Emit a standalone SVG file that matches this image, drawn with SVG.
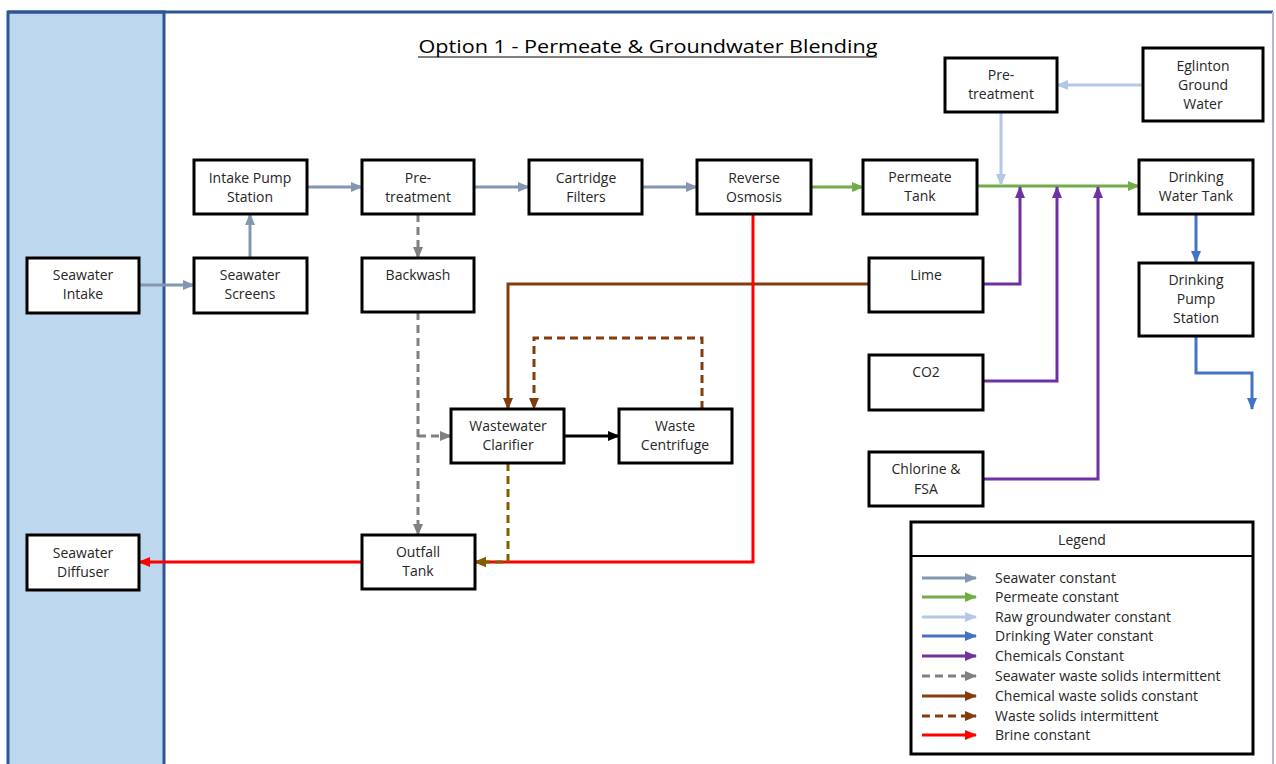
<svg xmlns="http://www.w3.org/2000/svg" width="1276" height="764" viewBox="0 0 1276 764">
<style>
.box{fill:#fff;stroke:#000;stroke-width:3}
.t{font-family:"Open Sans","Liberation Sans",sans-serif;font-size:14px;fill:#262626;text-anchor:middle}
.lt{font-family:"Open Sans","Liberation Sans",sans-serif;font-size:14px;fill:#262626}
.c{fill:none;stroke-width:3}
.sw{stroke:#8497B0}
.pm{stroke:#70AD47}
.gw{stroke:#B4C7E7}
.dw{stroke:#4472C4}
.ch{stroke:#7030A0}
.gd{stroke:#808080;stroke-dasharray:8 5}
.br{stroke:#843C0C}
.bd{stroke:#843C0C;stroke-dasharray:8 5}
.od{stroke:#7F6000;stroke-dasharray:8 5}
.rd{stroke:#FF0000}
.bk{stroke:#000}
</style>
<defs>
<marker id="aSw" markerUnits="userSpaceOnUse" markerWidth="12" markerHeight="10" refX="11" refY="5" orient="auto"><path d="M0,0 L12,5 L0,10 z" fill="#8497B0"/></marker>
<marker id="aPm" markerUnits="userSpaceOnUse" markerWidth="12" markerHeight="10" refX="11" refY="5" orient="auto"><path d="M0,0 L12,5 L0,10 z" fill="#70AD47"/></marker>
<marker id="aGw" markerUnits="userSpaceOnUse" markerWidth="12" markerHeight="10" refX="11" refY="5" orient="auto"><path d="M0,0 L12,5 L0,10 z" fill="#B4C7E7"/></marker>
<marker id="aDw" markerUnits="userSpaceOnUse" markerWidth="12" markerHeight="10" refX="11" refY="5" orient="auto"><path d="M0,0 L12,5 L0,10 z" fill="#4472C4"/></marker>
<marker id="aCh" markerUnits="userSpaceOnUse" markerWidth="12" markerHeight="10" refX="11" refY="5" orient="auto"><path d="M0,0 L12,5 L0,10 z" fill="#7030A0"/></marker>
<marker id="aGd" markerUnits="userSpaceOnUse" markerWidth="12" markerHeight="10" refX="11" refY="5" orient="auto"><path d="M0,0 L12,5 L0,10 z" fill="#808080"/></marker>
<marker id="aBr" markerUnits="userSpaceOnUse" markerWidth="12" markerHeight="10" refX="11" refY="5" orient="auto"><path d="M0,0 L12,5 L0,10 z" fill="#843C0C"/></marker>
<marker id="aOd" markerUnits="userSpaceOnUse" markerWidth="12" markerHeight="10" refX="11" refY="5" orient="auto"><path d="M0,0 L12,5 L0,10 z" fill="#7F6000"/></marker>
<marker id="aRd" markerUnits="userSpaceOnUse" markerWidth="12" markerHeight="10" refX="11" refY="5" orient="auto"><path d="M0,0 L12,5 L0,10 z" fill="#FF0000"/></marker>
<marker id="aBk" markerUnits="userSpaceOnUse" markerWidth="12" markerHeight="10" refX="11" refY="5" orient="auto"><path d="M0,0 L12,5 L0,10 z" fill="#000"/></marker>
</defs>
<rect width="1276" height="764" fill="#fff"/>
<g id="frame">
<rect x="8" y="12" width="156" height="760" fill="#BDD7EE" stroke="#2F5597" stroke-width="3"/>
<line x1="8" y1="12" x2="1273" y2="12" stroke="#2F5597" stroke-width="3"/>
<line x1="1273" y1="12" x2="1273" y2="764" stroke="#B8B8D8" stroke-width="2"/>
</g>
<g id="title">
<text x="648" y="53" font-family="'Open Sans','Liberation Sans',sans-serif" font-size="19" fill="#000" text-anchor="middle" textLength="459" lengthAdjust="spacingAndGlyphs">Option 1 - Permeate &amp; Groundwater Blending</text>
<line x1="418" y1="57" x2="877" y2="57" stroke="#000" stroke-width="1"/>
</g>
<g id="connectors">
<line class="c sw" x1="139" y1="285" x2="194" y2="285" marker-end="url(#aSw)"/>
<line class="c sw" x1="250" y1="258" x2="250" y2="214" marker-end="url(#aSw)"/>
<line class="c sw" x1="307" y1="187" x2="362" y2="187" marker-end="url(#aSw)"/>
<line class="c sw" x1="474" y1="187" x2="529" y2="187" marker-end="url(#aSw)"/>
<line class="c sw" x1="642" y1="187" x2="697" y2="187" marker-end="url(#aSw)"/>
<line class="c pm" x1="811" y1="187" x2="863" y2="187" marker-end="url(#aPm)"/>
<line class="c pm" x1="977" y1="186" x2="1139" y2="186" marker-end="url(#aPm)"/>
<line class="c gw" x1="1143" y1="85" x2="1057" y2="85" marker-end="url(#aGw)"/>
<line class="c gw" x1="1001" y1="112" x2="1001" y2="185" marker-end="url(#aGw)"/>
<path class="c ch" d="M983,284 H1020 V187" marker-end="url(#aCh)"/>
<path class="c ch" d="M983,381 H1057 V187" marker-end="url(#aCh)"/>
<path class="c ch" d="M983,479 H1098 V187" marker-end="url(#aCh)"/>
<line class="c dw" x1="1196" y1="214" x2="1196" y2="262" marker-end="url(#aDw)"/>
<path class="c dw" d="M1196,336 V373 H1252 V409" marker-end="url(#aDw)"/>
<line class="c gd" x1="418" y1="214" x2="418" y2="258" marker-end="url(#aGd)"/>
<line class="c gd" x1="418" y1="312" x2="418" y2="535" marker-end="url(#aGd)"/>
<line class="c gd" x1="418" y1="436" x2="451" y2="436" marker-end="url(#aGd)"/>
<path class="c br" d="M869,284 H508 V409" marker-end="url(#aBr)"/>
<path class="c bd" d="M702,409 V338 H534 V409" marker-end="url(#aBr)"/>
<line class="c bk" x1="564" y1="436" x2="619" y2="436" marker-end="url(#aBk)"/>
<path class="c rd" d="M753,214 V562 H475" marker-end="url(#aRd)"/>
<path class="c od" d="M508,463 V562 H475" marker-end="url(#aOd)"/>
<line class="c rd" x1="362" y1="562" x2="139" y2="562" marker-end="url(#aRd)"/>
</g>
<g id="n-seawater-intake"><rect class="box" x="27" y="258" width="112" height="55"/><text class="t" x="83" y="280">Seawater</text><text class="t" x="83" y="299">Intake</text></g>
<g id="n-seawater-screens"><rect class="box" x="194" y="258" width="113" height="55"/><text class="t" x="250" y="280">Seawater</text><text class="t" x="250" y="299">Screens</text></g>
<g id="n-intake-pump"><rect class="box" x="194" y="160" width="113" height="54"/><text class="t" x="250" y="183">Intake Pump</text><text class="t" x="250" y="202">Station</text></g>
<g id="n-pretreatment"><rect class="box" x="362" y="160" width="112" height="54"/><text class="t" x="418" y="183">Pre-</text><text class="t" x="418" y="202">treatment</text></g>
<g id="n-backwash"><rect class="box" x="362" y="258" width="112" height="54"/><text class="t" x="418" y="280">Backwash</text></g>
<g id="n-cartridge"><rect class="box" x="529" y="160" width="113" height="54"/><text class="t" x="586" y="183">Cartridge</text><text class="t" x="586" y="202">Filters</text></g>
<g id="n-ro"><rect class="box" x="697" y="160" width="114" height="54"/><text class="t" x="754" y="183">Reverse</text><text class="t" x="754" y="202">Osmosis</text></g>
<g id="n-permeate-tank"><rect class="box" x="863" y="160" width="114" height="54"/><text class="t" x="920" y="182">Permeate</text><text class="t" x="920" y="201">Tank</text></g>
<g id="n-gw-pretreatment"><rect class="box" x="945" y="58" width="112" height="54"/><text class="t" x="1001" y="80">Pre-</text><text class="t" x="1001" y="99">treatment</text></g>
<g id="n-eglinton"><rect class="box" x="1143" y="48" width="120" height="73"/><text class="t" x="1203" y="71">Eglinton</text><text class="t" x="1203" y="90">Ground</text><text class="t" x="1203" y="109">Water</text></g>
<g id="n-dw-tank"><rect class="box" x="1139" y="160" width="114" height="54"/><text class="t" x="1196" y="182">Drinking</text><text class="t" x="1196" y="201">Water Tank</text></g>
<g id="n-dw-pump"><rect class="box" x="1139" y="263" width="114" height="73"/><text class="t" x="1196" y="285">Drinking</text><text class="t" x="1196" y="304">Pump</text><text class="t" x="1196" y="323">Station</text></g>
<g id="n-lime"><rect class="box" x="869" y="258" width="114" height="54"/><text class="t" x="926" y="280">Lime</text></g>
<g id="n-co2"><rect class="box" x="869" y="355" width="114" height="55"/><text class="t" x="926" y="377">CO2</text></g>
<g id="n-chlorine"><rect class="box" x="869" y="452" width="114" height="54"/><text class="t" x="926" y="474">Chlorine &amp;</text><text class="t" x="926" y="494">FSA</text></g>
<g id="n-clarifier"><rect class="box" x="451" y="409" width="113" height="54"/><text class="t" x="508" y="431">Wastewater</text><text class="t" x="508" y="450">Clarifier</text></g>
<g id="n-centrifuge"><rect class="box" x="619" y="409" width="113" height="54"/><text class="t" x="675" y="431">Waste</text><text class="t" x="675" y="450">Centrifuge</text></g>
<g id="n-outfall"><rect class="box" x="362" y="535" width="113" height="54"/><text class="t" x="418" y="557">Outfall</text><text class="t" x="418" y="576">Tank</text></g>
<g id="n-diffuser"><rect class="box" x="27" y="535" width="112" height="55"/><text class="t" x="83" y="558">Seawater</text><text class="t" x="83" y="577">Diffuser</text></g>
<g id="legend">
<rect class="box" x="911" y="522" width="342" height="232"/>
<line x1="911" y1="556" x2="1253" y2="556" stroke="#000" stroke-width="2"/>
<text class="t" x="1082" y="545">Legend</text>
<line class="c sw" x1="922" y1="578" x2="976" y2="578" marker-end="url(#aSw)"/>
<line class="c pm" x1="922" y1="597" x2="976" y2="597" marker-end="url(#aPm)"/>
<line class="c gw" x1="922" y1="617" x2="976" y2="617" marker-end="url(#aGw)"/>
<line class="c dw" x1="922" y1="636" x2="976" y2="636" marker-end="url(#aDw)"/>
<line class="c ch" x1="922" y1="656" x2="976" y2="656" marker-end="url(#aCh)"/>
<line class="c gd" x1="922" y1="676" x2="976" y2="676" marker-end="url(#aGd)"/>
<line class="c br" x1="922" y1="696" x2="976" y2="696" marker-end="url(#aBr)"/>
<line class="c bd" x1="922" y1="716" x2="976" y2="716" marker-end="url(#aBr)"/>
<line class="c rd" x1="922" y1="735" x2="976" y2="735" marker-end="url(#aRd)"/>
<text class="lt" x="995" y="583">Seawater constant</text>
<text class="lt" x="995" y="602">Permeate constant</text>
<text class="lt" x="995" y="622">Raw groundwater constant</text>
<text class="lt" x="995" y="641">Drinking Water constant</text>
<text class="lt" x="995" y="661">Chemicals Constant</text>
<text class="lt" x="995" y="681">Seawater waste solids intermittent</text>
<text class="lt" x="995" y="701">Chemical waste solids constant</text>
<text class="lt" x="995" y="721">Waste solids intermittent</text>
<text class="lt" x="995" y="740">Brine constant</text>
</g>
</svg>
